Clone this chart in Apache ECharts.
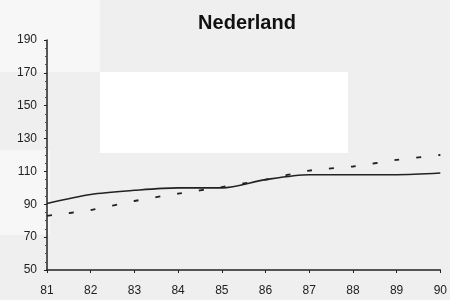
<!DOCTYPE html>
<html>
<head>
<meta charset="utf-8">
<script src="https://cdn.jsdelivr.net/npm/echarts@6/dist/echarts.min.js"></script>
<style>
  html, body { margin: 0; padding: 0; background: #efefef; }
  #chart { width: 450px; height: 300px; }
</style>
</head>
<body>
<div id="chart"></div>
<script>
// jaren (x-as)
const years = ['81', '82', '83', '84', '85', '86', '87', '88', '89', '90'];
// doorgetrokken lijn
const solidValues = [90.5, 96, 98.5, 100, 100, 105, 108, 108, 108, 109];
// gestippelde lijn
const dashedValues = [83, 86.5, 92, 96.5, 100.5, 105, 110.5, 113, 117, 120];

const chart = echarts.init(document.getElementById('chart'));

const option = {
  backgroundColor: '#efefef',
  animation: false,
  title: {
    text: 'Nederland',
    left: 242,
    textAlign: 'center',
    top: 8,
    textStyle: { fontFamily: 'Liberation Sans', fontSize: 20, fontWeight: 'bold', color: '#111' }
  },
  graphic: [
    { type: 'rect', z: -10, shape: { x: 100, y: 72, width: 248, height: 81 }, style: { fill: '#ffffff' } },
    { type: 'rect', z: -10, shape: { x: 0, y: 0, width: 100, height: 72 }, style: { fill: '#f7f7f7' } },
    { type: 'rect', z: -10, shape: { x: 0, y: 150, width: 50, height: 85 }, style: { fill: '#f7f7f7' } }
  ],
  grid: { left: 47, right: 6, top: 40, bottom: 30 },
  xAxis: {
    type: 'category',
    data: years,
    boundaryGap: false,
    axisLine: { lineStyle: { color: '#222', width: 1.5 } },
    axisTick: { show: true, length: 3, lineStyle: { color: '#222' } },
    axisLabel: { color: '#222', fontFamily: 'Liberation Sans', fontSize: 12, margin: 15 },
    splitLine: { show: false }
  },
  yAxis: {
    type: 'value',
    min: 50,
    max: 190,
    interval: 20,
    axisLine: { show: true, lineStyle: { color: '#222', width: 1.5 } },
    axisTick: { show: true, length: 3, lineStyle: { color: '#222' } },
    minorTick: { show: true, splitNumber: 4, length: 2, lineStyle: { color: '#555' } },
    axisLabel: { color: '#222', fontFamily: 'Liberation Sans', fontSize: 12, margin: 10 },
    splitLine: { show: false }
  },
  series: [
    {
      type: 'line',
      data: solidValues,
      smooth: 0.3,
      symbol: 'none',
      lineStyle: { color: '#222', width: 1.6 }
    },
    {
      type: 'line',
      data: dashedValues,
      smooth: 0.3,
      symbol: 'none',
      lineStyle: { color: '#222', width: 1.8, type: [5, 17] }
    }
  ]
};

chart.setOption(option);
</script>
</body>
</html>
